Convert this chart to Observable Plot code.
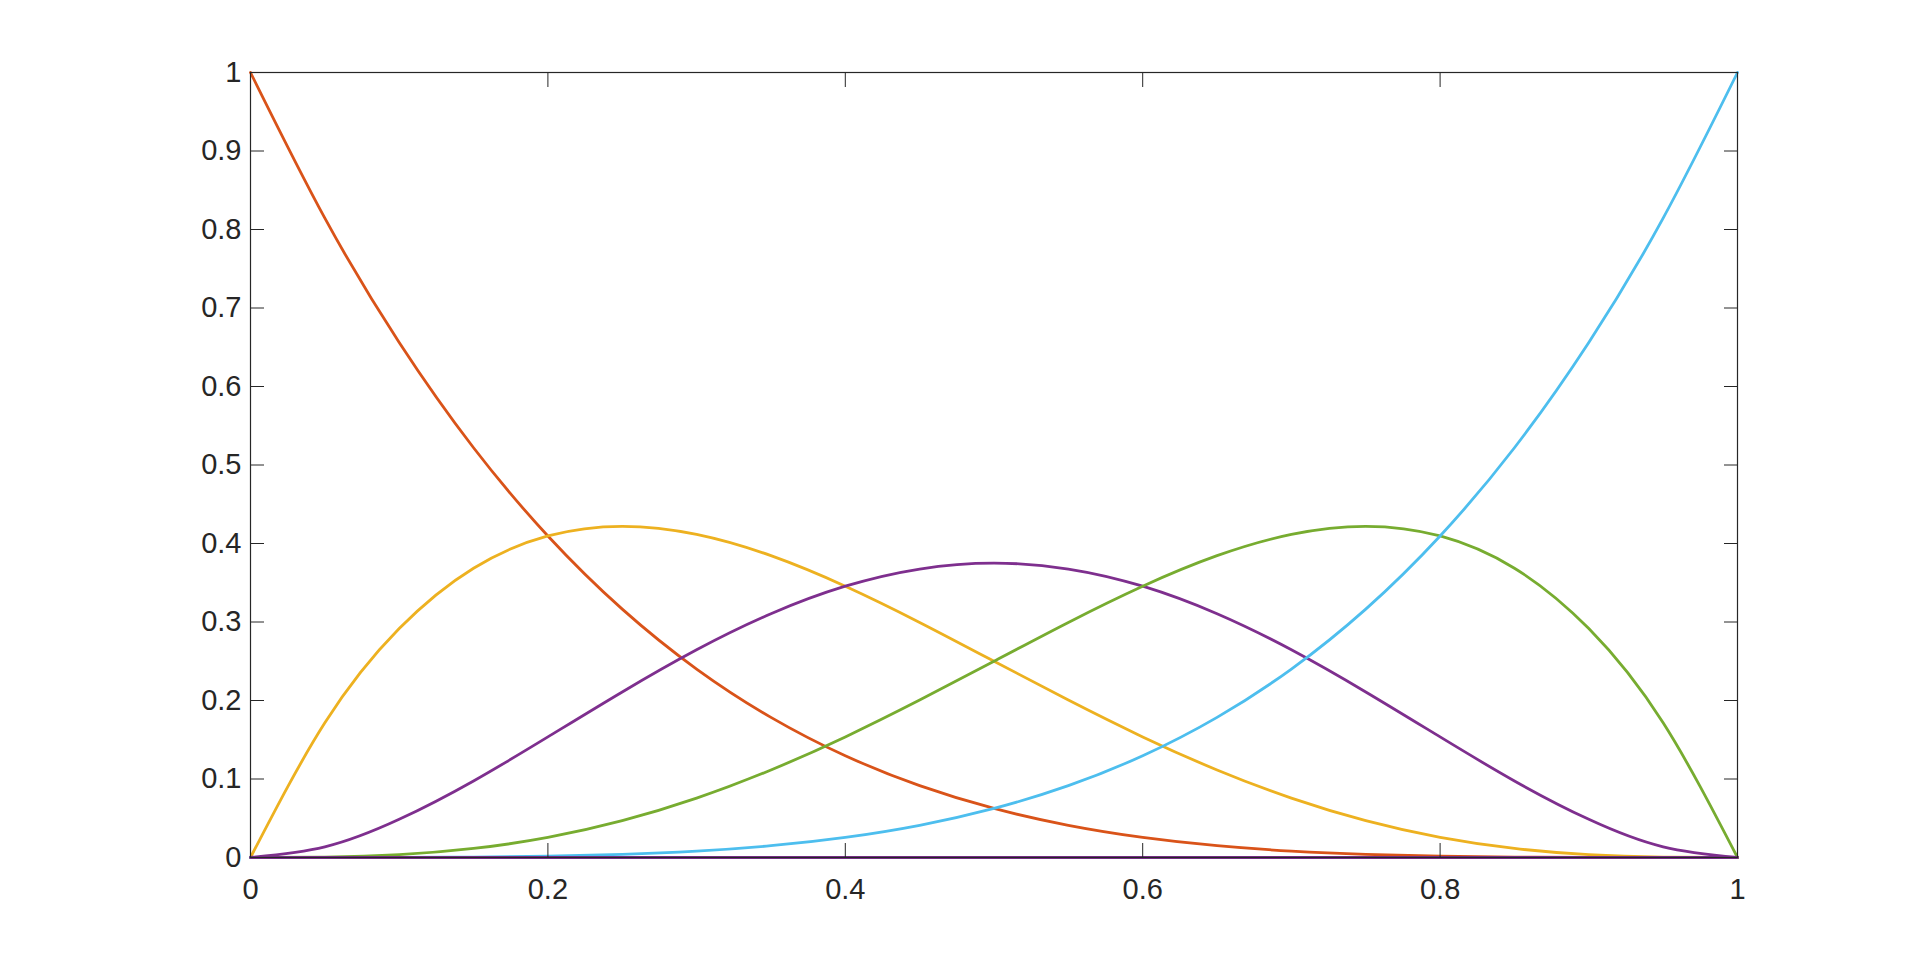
<!DOCTYPE html>
<html>
<head>
<meta charset="utf-8">
<script src="https://cdn.jsdelivr.net/npm/d3@7"></script>
<script src="https://cdn.jsdelivr.net/npm/@observablehq/plot@0.6"></script>
<style>
  html, body { margin: 0; padding: 0; background: #fff; }
  #chart svg { display: block; }
</style>
</head>
<body>
<div id="chart"></div>
<script>
const xs = [0, 0.05, 0.1, 0.15, 0.2, 0.25, 0.3, 0.35, 0.4, 0.45, 0.5, 0.55, 0.6, 0.65, 0.7, 0.75, 0.8, 0.85, 0.9, 0.95, 1];
const seriesRed    = [1, 0.8145, 0.6561, 0.5220, 0.4096, 0.3164, 0.2401, 0.1785, 0.1296, 0.0915, 0.0625, 0.0410, 0.0256, 0.0150, 0.0081, 0.0039, 0.0016, 0.0005, 0.0001, 0.0000, 0];
const seriesYellow = [0, 0.1715, 0.2916, 0.3685, 0.4096, 0.4219, 0.4116, 0.3845, 0.3456, 0.2995, 0.25, 0.2005, 0.1536, 0.1115, 0.0756, 0.0469, 0.0256, 0.0115, 0.0036, 0.0005, 0];
const seriesPurple = [0, 0.0135, 0.0486, 0.0975, 0.1536, 0.2109, 0.2646, 0.3105, 0.3456, 0.3675, 0.375, 0.3675, 0.3456, 0.3105, 0.2646, 0.2109, 0.1536, 0.0975, 0.0486, 0.0135, 0];
const seriesGreen  = [0, 0.0005, 0.0036, 0.0115, 0.0256, 0.0469, 0.0756, 0.1115, 0.1536, 0.2005, 0.25, 0.2995, 0.3456, 0.3845, 0.4116, 0.4219, 0.4096, 0.3685, 0.2916, 0.1715, 0];
const seriesBlue   = [0, 0.0000, 0.0001, 0.0005, 0.0016, 0.0039, 0.0081, 0.0150, 0.0256, 0.0410, 0.0625, 0.0915, 0.1296, 0.1785, 0.2401, 0.3164, 0.4096, 0.5220, 0.6561, 0.8145, 1];
const seriesZero   = [0, 0, 0, 0, 0, 0, 0, 0, 0, 0, 0, 0, 0, 0, 0, 0, 0, 0, 0, 0, 0];

const xTicks = [0, 0.2, 0.4, 0.6, 0.8, 1];
const yTicks = [0, 0.1, 0.2, 0.3, 0.4, 0.5, 0.6, 0.7, 0.8, 0.9, 1];

const series = [
  {values: seriesRed, color: "#D95319"},
  {values: seriesYellow, color: "#EDB120"},
  {values: seriesPurple, color: "#7E2F8E"},
  {values: seriesGreen, color: "#77AC30"},
  {values: seriesBlue, color: "#4DBEEE"},
  {values: seriesZero, color: "#7E2F8E"}
];

const fmt = d => String(+d.toFixed(2));
const axisColor = "#262626";
const font = "'Liberation Sans', Arial, Helvetica, sans-serif";

const lineMarks = series.map(s =>
  Plot.line(xs.map((x, i) => ({x, y: s.values[i]})), {
    x: "x", y: "y", stroke: s.color, strokeWidth: 2.8, curve: "natural"
  })
);

const chart = Plot.plot({
  width: 1920,
  height: 964,
  marginLeft: 250,
  marginRight: 183,
  marginTop: 72,
  marginBottom: 107,
  style: {fontFamily: font, fontSize: "29px", color: axisColor, background: "#fff"},
  x: {domain: [0, 1]},
  y: {domain: [0, 1]},
  marks: [
    ...lineMarks,
    Plot.frame({stroke: axisColor, strokeWidth: 1.2}),
    Plot.axisX(xTicks, {anchor: "bottom", tickSize: 0, tickPadding: 21, tickFormat: fmt, label: null, fill: axisColor, fontSize: 29}),
    Plot.axisY(yTicks, {anchor: "left", tickSize: 0, tickPadding: 9, tickFormat: fmt, label: null, fill: axisColor, fontSize: 29}),
    Plot.axisX(xTicks, {anchor: "bottom", tickSize: -14, tickFormat: () => "", label: null, stroke: axisColor}),
    Plot.axisX(xTicks, {anchor: "top", tickSize: -14, tickFormat: () => "", label: null, stroke: axisColor}),
    Plot.axisY(yTicks, {anchor: "left", tickSize: -14, tickFormat: () => "", label: null, stroke: axisColor}),
    Plot.axisY(yTicks, {anchor: "right", tickSize: -14, tickFormat: () => "", label: null, stroke: axisColor})
  ]
});

document.getElementById("chart").appendChild(chart);
// Make sure the tick labels use the intended size (Plot's own class styles can override).
d3.select(chart).selectAll("text").attr("font-size", 29).style("font-size", "29px");
</script>
</body>
</html>
